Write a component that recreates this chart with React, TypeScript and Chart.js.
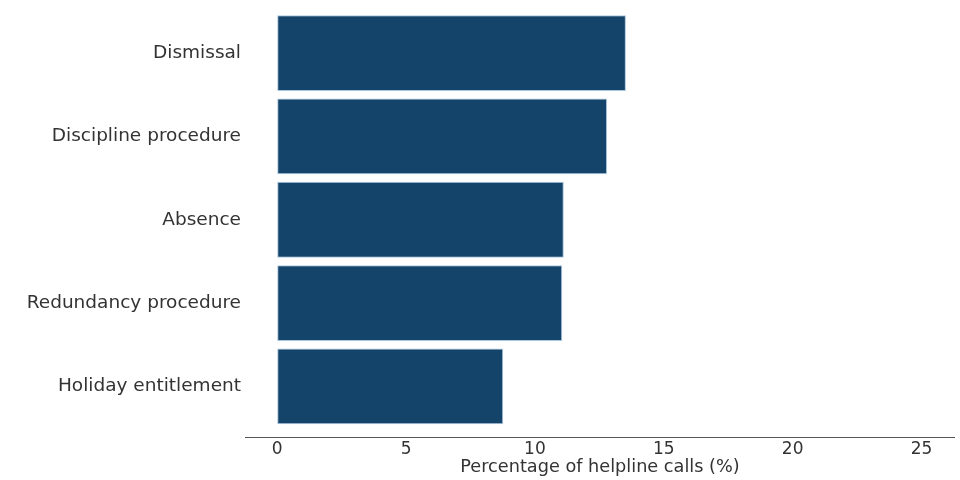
import React, { useRef, useEffect } from 'react';
import { Chart, registerables } from 'chart.js';

Chart.register(...registerables);

const categories = [
  'Dismissal',
  'Discipline procedure',
  'Absence',
  'Redundancy procedure',
  'Holiday entitlement',
];
const callShares = [13.53, 12.8, 11.12, 11.06, 8.77];
const xTickValues = [0, 5, 10, 15, 20, 25];

const FONT = "'DejaVu Sans', sans-serif";

// x axis line sits a bit below the last bar, so draw it by hand
const axisLine = {
  id: 'axisLine',
  afterDraw(chart: Chart) {
    const { ctx, chartArea } = chart;
    const y = Math.round(chartArea.bottom + 9) + 0.5;
    ctx.save();
    ctx.strokeStyle = '#555555';
    ctx.lineWidth = 1;
    ctx.beginPath();
    ctx.moveTo(chartArea.left, y);
    ctx.lineTo(chartArea.right, y);
    ctx.stroke();
    ctx.restore();
  },
};

const App: React.FC = () => {
  const canvasRef = useRef<HTMLCanvasElement>(null);
  const chartRef = useRef<Chart | null>(null);

  useEffect(() => {
    if (!canvasRef.current) return;
    if (chartRef.current) chartRef.current.destroy();
    const ctx = canvasRef.current.getContext('2d');
    if (!ctx) return;

    chartRef.current = new Chart(ctx, {
      type: 'bar',
      data: {
        labels: categories,
        datasets: [
          {
            data: callShares,
            backgroundColor: '#15446b',
            borderColor: '#a9c7df',
            borderWidth: 1,
            borderSkipped: false,
            barPercentage: 0.91,
            categoryPercentage: 1,
          },
        ],
      },
      options: {
        indexAxis: 'y',
        animation: false,
        responsive: true,
        maintainAspectRatio: false,
        layout: { padding: { top: 11.5, right: 5, left: 0, bottom: 0 } },
        plugins: {
          legend: { display: false },
          tooltip: { enabled: false },
        },
        scales: {
          x: {
            type: 'linear',
            min: -1.25,
            max: 26.3,
            afterBuildTicks: (scale: any) => {
              scale.ticks = xTickValues.map((v) => ({ value: v }));
            },
            afterFit: (scale: any) => {
              scale.height = 52;
              scale.paddingLeft = 0;
              scale.paddingRight = 0;
            },
            grid: { display: false, drawTicks: false },
            border: { display: false },
            ticks: {
              color: '#333333',
              padding: 11,
              font: { family: FONT, size: 17 },
            },
            title: {
              display: true,
              text: 'Percentage of helpline calls (%)',
              color: '#333333',
              padding: { top: 0, bottom: 2 },
              font: { family: FONT, size: 17.7 },
            },
          },
          y: {
            afterFit: (scale: any) => {
              scale.width = 245;
              scale.paddingTop = 0;
              scale.paddingBottom = 0;
            },
            grid: { display: false, drawTicks: false },
            border: { display: false },
            ticks: {
              color: '#333333',
              padding: 4,
              font: { family: FONT, size: 18.5 },
            },
          },
        },
      },
      plugins: [axisLine],
    });

    return () => {
      if (chartRef.current) {
        chartRef.current.destroy();
        chartRef.current = null;
      }
    };
  }, []);

  return (
    <div style={{ position: 'fixed', left: 0, top: 0, width: 960, height: 480, background: '#ffffff' }}>
      <canvas ref={canvasRef} />
    </div>
  );
};

export default App;
